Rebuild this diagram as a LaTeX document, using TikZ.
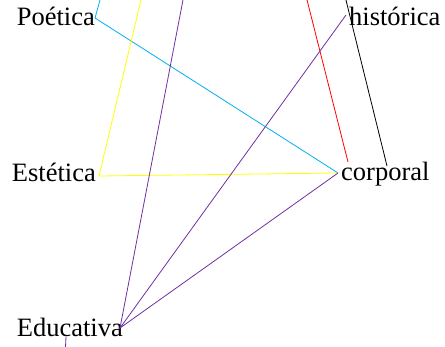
\documentclass[tikz,border=0pt]{standalone}
\usepackage{fontspec}
\setmainfont{Liberation Serif}
\usetikzlibrary{positioning}
\definecolor{netcyan}{RGB}{0, 176, 240}
\definecolor{netyellow}{RGB}{255, 255, 0}
\definecolor{netpurple}{RGB}{112, 48, 160}

\begin{document}
\begin{tikzpicture}[x=1pt, y=-1pt,
        lbl/.style={inner sep=0pt, font=\fontsize{26.5}{30}\selectfont},
        link/.style={line width=0.8pt}
    ]
    \useasboundingbox (0,0) rectangle (445,347);
    \clip (0,0) rectangle (445,347);

    % points of the nodes
    \coordinate (poet) at (95,18);
    \coordinate (hist) at (346,15);
    \coordinate (este) at (99,176);
    \coordinate (corp) at (338,173);
    \coordinate (educ) at (120,328);

    % free ends, out of the frame
    \coordinate (upcyan) at (102.8,-10);
    \coordinate (upyellow) at (143.4,-10);
    \coordinate (uppurple) at (184.9,-10);
    \coordinate (upred) at (304.5,-10);
    \coordinate (upblack) at (343.5,-10);
    \coordinate (redend) at (348,162);
    \coordinate (blackend) at (387,166);
    \coordinate (lowtop) at (66,337);
    \coordinate (lowend) at (65,357);

    \node[lbl, anchor=base east] (poetlbl) at (95,26) {Poética};
    \node[lbl, anchor=base west] (histlbl) at (349,26) {histórica};
    \node[lbl, anchor=base east] (estelbl) at (96,182) {Estética};
    \node[lbl, anchor=base west] (corplbl) at (341,181) {corporal};
    \node[lbl, anchor=base east] (educlbl) at (123,337) {Educativa};

    \draw[link, netcyan] (upcyan) -- (poet) -- (corp);
    \draw[link, netyellow] (upyellow) -- (este) -- (corp);
    \draw[link, red] (upred) -- (redend);
    \draw[link, black] (upblack) -- (blackend);
    \draw[link, netpurple] (uppurple) -- (educ);
    \draw[link, netpurple] (hist) -- (educ) -- (corp);
    \draw[link, netpurple] (lowtop) -- (lowend);
\end{tikzpicture}
\end{document}
